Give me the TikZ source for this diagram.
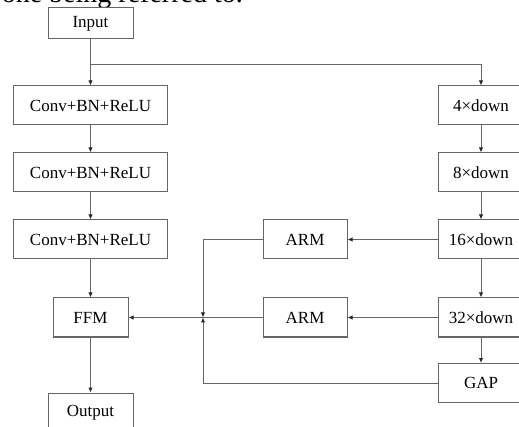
\documentclass[tikz,border=0pt]{standalone}
\usepackage{fontspec}
\setmainfont{Liberation Serif}
\usetikzlibrary{arrows.meta}
\begin{document}
\begin{tikzpicture}[x=1pt, y=-1pt,
    blk/.style={draw=black!60, line width=1pt, minimum width=154pt, minimum height=39pt,
      inner sep=0pt, font=\fontsize{17}{20}\selectfont},
    flow/.style={draw=black!60, line width=1pt, -{Latex[length=5pt,width=4.5pt,black!85]}}]
      \useasboundingbox (0,0) rectangle (519,427);
      \node[anchor=base east, inner sep=0pt, font=\fontsize{28}{32}\selectfont](Top) at (243,2.5){one being referred to.};

      \node[blk, minimum width=85pt, minimum height=31pt](In) at (90.5, 23.5){Input};
      \node[blk](C1) at (90.5,105.5){Conv+BN+ReLU};
      \node[blk](C2) at (90.5,172.5){Conv+BN+ReLU};
      \node[blk](C3) at (90.5,239.5){Conv+BN+ReLU};
      \node[blk, minimum width=75pt](FFM) at (90.5,317.5){FFM};
      \node[blk, minimum width=85pt](Out) at (90.5,412.5){Output};

      \node[blk, minimum width=86pt](D4) at (481,105.5){4×down};
      \node[blk, minimum width=86pt](D8) at (481,172.5){8×down};
      \node[blk, minimum width=86pt](D16) at (481,239.5){16×down};
      \node[blk, minimum width=86pt](D32) at (481,317.5){32×down};
      \node[blk, minimum width=86pt](GAP) at (481,383){GAP};

      \node[blk, minimum width=84pt](A1) at (305,239.5){ARM};
      \node[blk, minimum width=84pt](A2) at (305,317.5){ARM};

      \coordinate(S) at (90.5,64.5);
      \coordinate(J) at (203,317.5);

      \draw[flow] (In) -- (C1);
      \draw[flow] (S) -| (D4.north);
      \draw[flow] (C1) -- (C2);
      \draw[flow] (C2) -- (C3);
      \draw[flow] (C3) -- (FFM);
      \draw[flow] (FFM) -- (Out);
      \draw[flow] (D4) -- (D8);
      \draw[flow] (D8) -- (D16);
      \draw[flow] (D16) -- (D32);
      \draw[flow] (D32) -- (GAP);
      \draw[flow] (D16) -- (A1);
      \draw[flow] (D32) -- (A2);
      \draw[flow] (A1.west) -| (J);
      \draw[flow] (GAP.west) -| (J);
      \draw[flow] (A2) -- (FFM);
\end{tikzpicture}
\end{document}
